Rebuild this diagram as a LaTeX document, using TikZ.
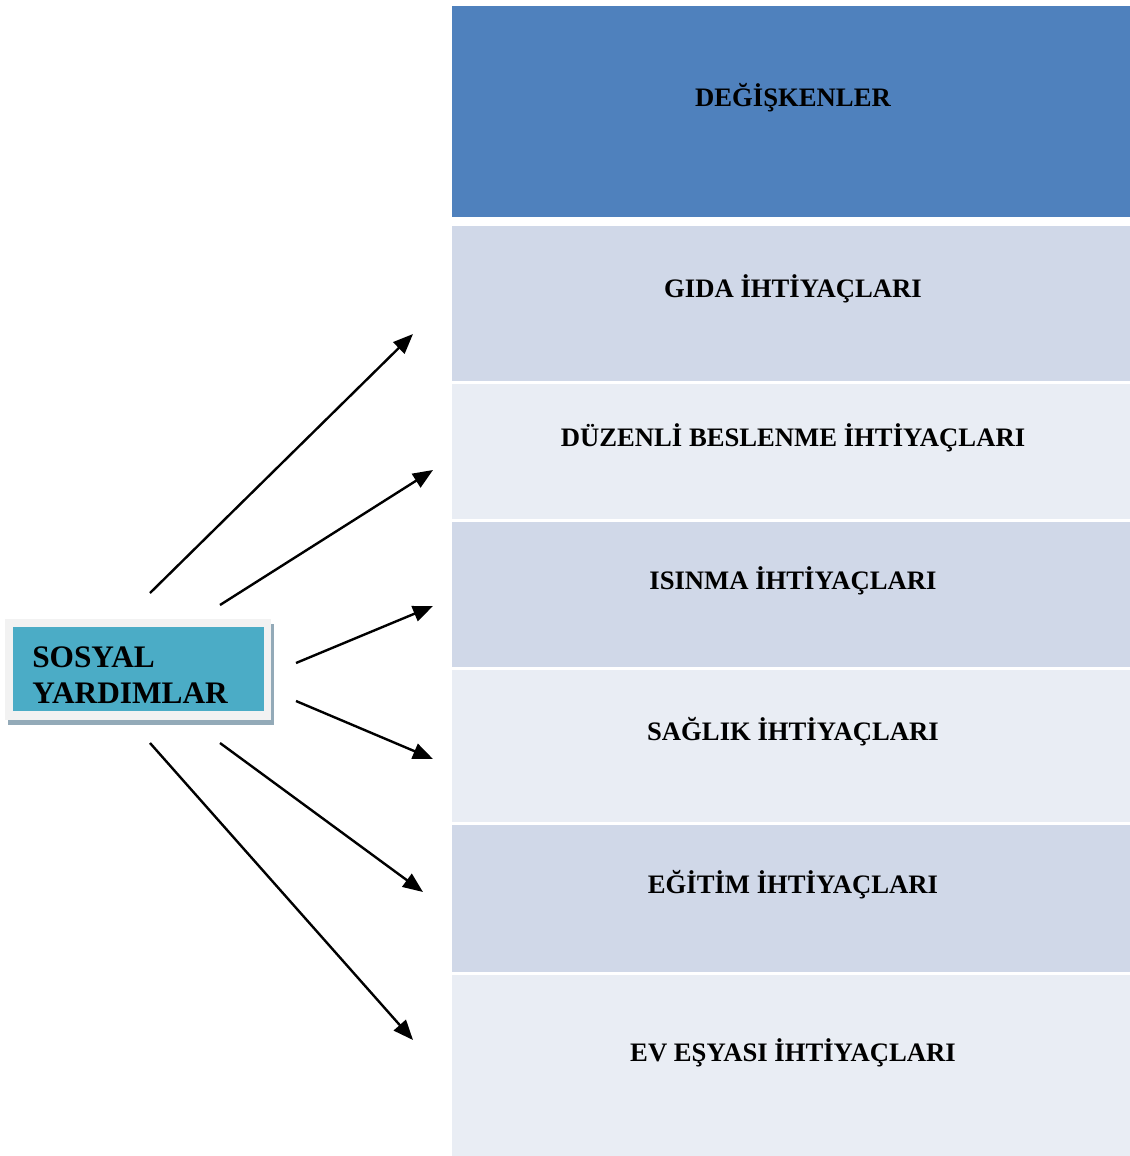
\documentclass[tikz,border=0pt]{standalone}
\usepackage{fontspec}
\setmainfont{Liberation Serif}
\usetikzlibrary{arrows.meta}
\definecolor{hdr}{HTML}{4F81BD}
\definecolor{rowdark}{HTML}{D0D8E8}
\definecolor{rowlight}{HTML}{E9EDF4}
\definecolor{teal}{HTML}{4BACC6}
\definecolor{frame}{HTML}{F2F2F2}
\definecolor{shadowc}{HTML}{93AAB8}
\tikzset{
  rowtext/.style={anchor=base, inner sep=0pt, font=\fontsize{20}{23}\selectfont\bfseries},
  conn/.style={line width=1.8pt, -{Triangle[length=15pt,width=12pt]}}
}
\begin{document}
\begin{tikzpicture}[x=0.75pt,y=-0.75pt]
\useasboundingbox (0,0) rectangle (1130,1156);
% table rows
\fill[hdr] (452,6) rectangle (1130,217);
\fill[rowdark] (452,226) rectangle (1130,381);
\fill[rowlight] (452,384) rectangle (1130,519);
\fill[rowdark] (452,522) rectangle (1130,667);
\fill[rowlight] (452,670) rectangle (1130,822);
\fill[rowdark] (452,825) rectangle (1130,972);
\fill[rowlight] (452,975) rectangle (1130,1156);
\node[rowtext] (hd) at (793,106) {DEĞİŞKENLER};
\node[rowtext] (r1) at (793,297) {GIDA İHTİYAÇLARI};
\node[rowtext] (r2) at (793,446) {DÜZENLİ BESLENME İHTİYAÇLARI};
\node[rowtext] (r3) at (793,589) {ISINMA İHTİYAÇLARI};
\node[rowtext] (r4) at (793,740) {SAĞLIK İHTİYAÇLARI};
\node[rowtext] (r5) at (793,893) {EĞİTİM İHTİYAÇLARI};
\node[rowtext] (r6) at (793,1061) {EV EŞYASI İHTİYAÇLARI};
% source box
\fill[shadowc] (8,624) rectangle (274,725);
\fill[frame] (5,619) rectangle (271,720);
\fill[teal] (13,627) rectangle (264,711);
\node[anchor=base west, inner sep=0pt, align=left, font=\fontsize{23.5}{26.3}\selectfont\bfseries] (sy) at (32,703) {SOSYAL\\YARDIMLAR};
% connectors
\coordinate (s1) at (150,593); \coordinate (e1) at (413,334);
\coordinate (s2) at (220,605); \coordinate (e2) at (433,470);
\coordinate (s3) at (296,663); \coordinate (e3) at (433,606);
\coordinate (s4) at (296,701); \coordinate (e4) at (433,759);
\coordinate (s5) at (220,743); \coordinate (e5) at (423,892);
\coordinate (s6) at (150,743); \coordinate (e6) at (413,1040);
\foreach \i in {1,...,6} { \draw[conn] (s\i) -- (e\i); }
\end{tikzpicture}
\end{document}
